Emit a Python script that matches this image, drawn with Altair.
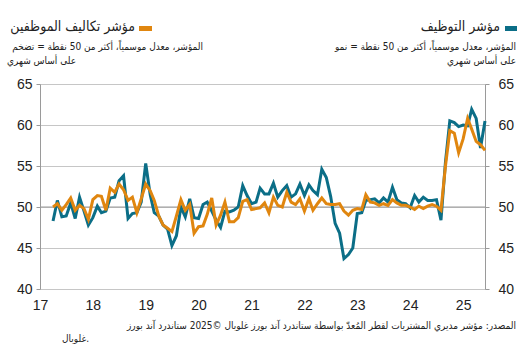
import altair as alt
import pandas as pd

# ---- data ----
months = pd.date_range("2017-04-01", periods=99, freq="MS").strftime("%Y-%m-%d").tolist()

employment = [
    48.3, 50.8, 48.8, 48.9, 50.5, 48.6, 51.2, 49.5, 47.8,
    48.7, 50.1, 49.3, 49.5, 51.1, 51.2, 53.2, 53.8, 48.6, 49.2, 49.3, 50.6,
    55.3, 51.5, 49.3, 48.9, 47.8, 47.3, 45.3, 46.5, 50.0, 48.8, 51.0, 48.7,
    48.6, 50.3, 50.6, 49.5, 48.4, 47.5, 49.5, 49.4, 49.6, 50.0, 52.6, 51.4,
    50.4, 50.6, 52.3, 51.6, 51.6, 52.9, 51.2, 52.0, 52.6, 51.2, 51.6, 52.8,
    51.4, 52.7, 52.0, 51.5, 54.6, 53.6, 51.3, 48.0, 46.8, 43.7, 44.2, 45.0,
    49.2, 49.3, 50.8, 50.9, 51.0, 50.5, 51.1, 50.6, 52.4, 50.9, 50.5, 50.4,
    49.9, 51.4, 50.6, 51.2, 50.8, 50.8, 50.9, 48.4, 55.5, 60.5, 60.3, 59.8,
    60.0, 59.9, 61.9, 60.8, 57.2, 60.5,
]

staff_costs = [
    50.0, 50.4, 49.6, 50.3, 51.1, 49.6, 50.2, 49.8, 48.5,
    50.9, 51.4, 51.3, 49.6, 52.3, 51.8, 52.8, 52.1, 50.8, 51.2, 49.3, 51.0,
    52.8, 52.0, 50.8, 48.9, 47.8, 47.4, 47.0, 48.9, 50.9, 49.6, 50.3, 46.8,
    47.6, 47.7, 49.1, 51.1, 47.8, 49.0, 50.6, 48.2, 48.2, 48.7, 50.7, 50.9,
    49.7, 49.8, 49.9, 50.5, 49.3, 51.2, 50.2, 50.0, 51.8, 50.6, 50.3, 51.0,
    49.5, 51.0, 49.6, 50.4, 51.1, 50.4, 50.3, 50.3, 50.4, 49.5, 49.0, 49.6,
    49.8, 49.7, 51.5, 50.6, 50.5, 50.2, 50.4, 50.2, 50.9, 50.5, 50.2, 50.2,
    50.0, 49.7, 50.1, 49.8, 50.1, 50.3, 50.1, 49.6, 55.0, 59.3, 59.0, 56.6,
    58.3, 60.8, 59.5, 58.0, 57.6, 56.9,
]

years = list(range(2017, 2026))
y_ticks = [40, 45, 50, 55, 60, 65]
cross_level = [50]

title_right = "مؤشر التوظيف"
title_left = "مؤشر تكاليف الموظفين"
sub_right_1 = "المؤشر، معدل موسمياً، أكثر من 50 نقطة = نمو"
sub_left_1 = "المؤشر، معدل موسمياً، أكثر من 50 نقطة = تضخم"
sub_2 = "على أساس شهري"
source_1 = "المصدر: مؤشر مديري المشتريات لقطر المُعدّ بواسطة ستاندرد آند بورز غلوبال ©2025 ستاندرد آند بورز"
source_2 = "غلوبال."

TEAL = "#0B6E87"
ORANGE = "#E0860F"
GRID = "#C6C6C6"
AXIS = "#9A9A9A"
FONT = "Liberation Sans"
AFONT = "DejaVu Sans Condensed, DejaVu Sans"

df = pd.DataFrame({"date": months, "employment": employment, "costs": staff_costs})

x_scale = alt.Scale(
    type="utc",
    domain=[alt.DateTime(year=2017, month=1, date=1, utc=True),
            alt.DateTime(year=2025, month=6, date=1, utc=True)],
)
y_dom = alt.Scale(domain=[40, 65], nice=False, zero=False)

x_axis = alt.Axis(
    values=[alt.DateTime(year=y, month=1, date=1, utc=True) for y in years],
    labelExpr="utcFormat(datum.value, '%y')",
    domain=False, ticks=False, grid=False, title=None,
    labelFontSize=14, labelFont=FONT, labelColor="#222", labelPadding=9,
    labelFlush=False,
)

base = alt.Chart(df)

teal = base.mark_line(color=TEAL, strokeWidth=3).encode(
    x=alt.X("date:T", scale=x_scale, axis=x_axis),
    y=alt.Y("employment:Q", scale=y_dom, axis=alt.Axis(
        values=y_ticks, orient="left", title=None, grid=True, gridColor=GRID,
        domainColor=AXIS, tickColor=AXIS, tickSize=4, labelFontSize=14,
        labelFont=FONT, labelColor="#222", labelPadding=4)),
)

cross = alt.Chart(pd.DataFrame({"v": cross_level})).mark_rule(
    color=AXIS, strokeWidth=1).encode(y=alt.Y("v:Q", scale=y_dom, axis=None))

orange = base.mark_line(color=ORANGE, strokeWidth=3).encode(
    x=alt.X("date:T", scale=x_scale, axis=x_axis),
    y=alt.Y("costs:Q", scale=y_dom, axis=alt.Axis(
        values=y_ticks, orient="right", title=None, grid=False,
        domainColor=AXIS, tickColor=AXIS, tickSize=4, labelFontSize=14,
        labelFont=FONT, labelColor="#222", labelPadding=9)),
)


def txt(s, x, y, size, baseline="middle", color="#222"):
    # x, y are absolute page pixels of the text's right edge / middle
    return alt.Chart(pd.DataFrame({"t": [s]})).mark_text(
        font=AFONT, fontSize=size, align="right", baseline=baseline, color=color
    ).encode(text="t:N", x=alt.value(x - 40), y=alt.value(y - 84))


def swatch(color, x, x2):
    return alt.Chart(pd.DataFrame({"c": [color]})).mark_rect(color=color).encode(
        x=alt.value(x - 40), x2=alt.value(x2 - 40), y=alt.value(26 - 84), y2=alt.value(31 - 84))


layers = [
    cross, teal, orange,
    txt(title_right, 500, 27, 14),
    swatch(TEAL, 505, 517),
    txt(title_left, 135, 27, 14),
    swatch(ORANGE, 139, 152),
    txt(sub_right_1, 516, 47, 10),
    txt(sub_2, 516, 61, 10),
    txt(sub_left_1, 203, 47, 10),
    txt(sub_2, 76, 61, 10),
    txt(source_1, 516, 326, 10),
    txt(source_2, 89, 339, 10),
]

chart = alt.layer(*layers).resolve_scale(y="independent").properties(
    width=445, height=205,
    autosize=alt.AutoSizeParams(type="none"),
    padding={"left": 40, "top": 84, "right": 40, "bottom": 60},
).configure_view(stroke=None).configure(background="white")

chart.save("out.html", embed_options={"renderer": "svg", "actions": False})
